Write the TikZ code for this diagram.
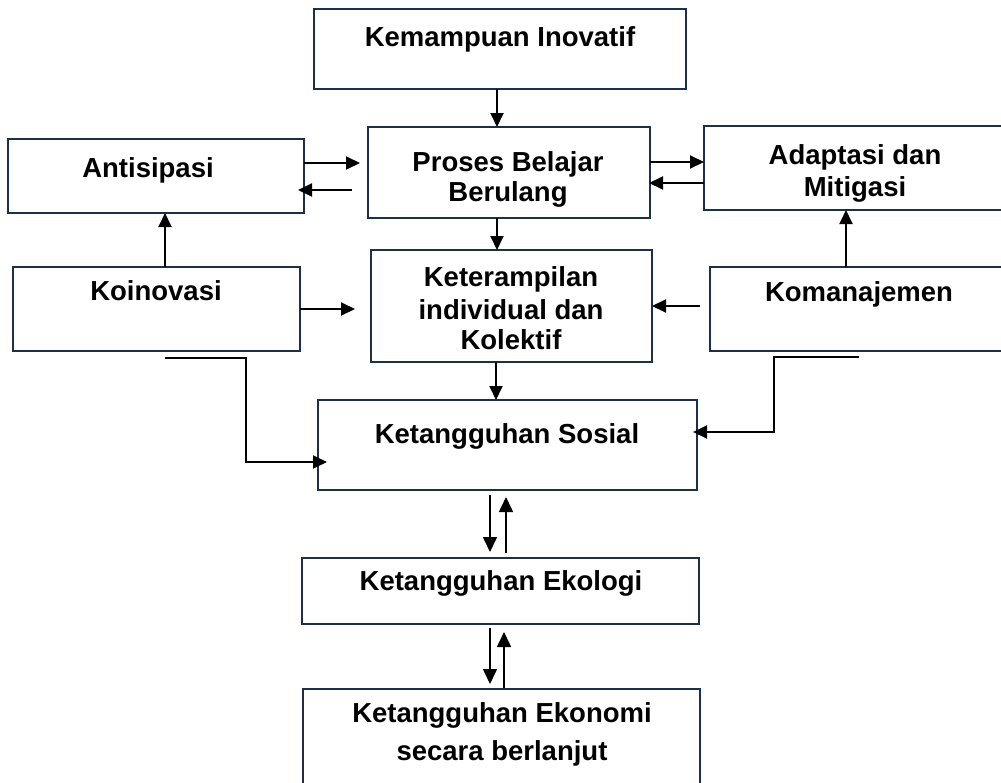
\documentclass[tikz,border=0pt]{standalone}
\usepackage{fontspec}
\setmainfont{Liberation Sans}
\usetikzlibrary{arrows.meta}
\definecolor{edgeblue}{RGB}{28,48,72}
\begin{document}
\begin{tikzpicture}[x=1pt,y=-1pt,
  box/.style={draw=edgeblue,line width=1.3pt,inner sep=0pt,outer sep=0pt,anchor=north west},
  txt/.style={font=\fontsize{27.5}{32}\selectfont\bfseries,anchor=base,align=center,inner sep=0pt},
  arr/.style={line width=1.9pt,-{Triangle[length=14pt,width=13pt]}},
  thinarr/.style={line width=1.6pt,-{Triangle[length=15pt,width=14pt]}}]
\useasboundingbox (0,0) rectangle (1001,782);

% boxes
\node[box,minimum width=372pt,minimum height=80pt]  (kem) at (314,9)   {};
\node[box,minimum width=296pt,minimum height=74pt]  (ant) at (8,139)   {};
\node[box,minimum width=282pt,minimum height=91pt]  (pro) at (368,127) {};
\node[box,minimum width=306pt,minimum height=84pt]  (ada) at (704,126) {};
\node[box,minimum width=287pt,minimum height=84pt]  (koi) at (13,267)  {};
\node[box,minimum width=281pt,minimum height=112pt] (ket) at (371,250) {};
\node[box,minimum width=300pt,minimum height=84pt]  (kom) at (710,267) {};
\node[box,minimum width=379pt,minimum height=90pt]  (sos) at (318,400) {};
\node[box,minimum width=397pt,minimum height=66pt]  (eko) at (302,558) {};
\node[box,minimum width=397pt,minimum height=111pt] (ekn) at (303,689) {};

% texts (multi-line nodes sit on the baseline of their last line)
\node[txt] (t-kem) at (500,46)    {Kemampuan Inovatif};
\node[txt] (t-ant) at (148,177)   {Antisipasi};
\node[txt] (t-pro) at (508,201.5) {Proses Belajar\\[-2pt]Berulang};
\node[txt] (t-ada) at (855,196.5) {Adaptasi dan\\Mitigasi};
\node[txt] (t-koi) at (156,300)   {Koinovasi};
\node[txt] (t-ket) at (511,349.5) {Keterampilan\\[1pt]individual dan\\[-2pt]Kolektif};
\node[txt] (t-kom) at (859,301.5) {Komanajemen};
\node[txt] (t-sos) at (507,443)   {Ketangguhan Sosial};
\node[txt] (t-eko) at (501,590.5) {Ketangguhan Ekologi};
\node[txt] (t-ekn) at (502,760)   {Ketangguhan Ekonomi\\[6pt]secara berlanjut};

% reference positions for connectors
\coordinate (xA) at (497,0);
\coordinate (yA1) at (0,163);
\coordinate (yA2) at (0,190);
\coordinate (yB1) at (0,162);
\coordinate (yB2) at (0,183);
\coordinate (xK) at (165,0);
\coordinate (xM) at (846,0);
\coordinate (yC) at (0,309);
\coordinate (yD) at (0,306);
\coordinate (xS) at (496,0);
\coordinate (koiOut) at (165,358);
\coordinate (koiBend) at (246,462);
\coordinate (komOut) at (859,357);
\coordinate (komBend) at (774,432);
\coordinate (xD) at (490,0);
\coordinate (xU1) at (506,0);
\coordinate (xU2) at (504,0);

% upper connectors
\draw[arr] (kem.south -| xA) -- (pro.north -| xA);
\draw[arr,shorten >=8pt] (ant.east |- yA1) -- (pro.west |- yA1);
\draw[arr,shorten <=16pt,shorten >=-6pt] (pro.west |- yA2) -- (ant.east |- yA2);
\draw[arr] (pro.east |- yB1) -- (ada.west |- yB1);
\draw[arr,shorten >=-1pt] (ada.west |- yB2) -- (pro.east |- yB2);
\draw[arr] (pro.south -| xA) -- (ket.north -| xA);
\draw[arr] (koi.north -| xK) -- (ant.south -| xK);
\draw[arr] (kom.north -| xM) -- (ada.south -| xM);
\draw[arr,shorten >=16pt] (koi.east |- yC) -- (ket.west |- yC);
\draw[arr,shorten <=10pt] (kom.west |- yD) -- (ket.east |- yD);
\draw[arr] (ket.south -| xS) -- (sos.north -| xS);
\draw[arr,shorten >=-9pt] (koiOut) -| (koiBend) -- (sos.west |- koiBend);
\draw[arr,shorten >=-4pt] (komOut) -| (komBend) -- (sos.east |- komBend);

% lower connectors
\draw[thinarr,shorten <=5pt,shorten >=6pt] (sos.south -| xD) -- (eko.north -| xD);
\draw[thinarr,shorten <=5pt,shorten >=7pt] (eko.north -| xU1) -- (sos.south -| xU1);
\draw[thinarr,shorten <=4pt,shorten >=5pt] (eko.south -| xD) -- (ekn.north -| xD);
\draw[thinarr,shorten <=1pt,shorten >=8pt] (ekn.north -| xU2) -- (eko.south -| xU2);
\end{tikzpicture}
\end{document}
